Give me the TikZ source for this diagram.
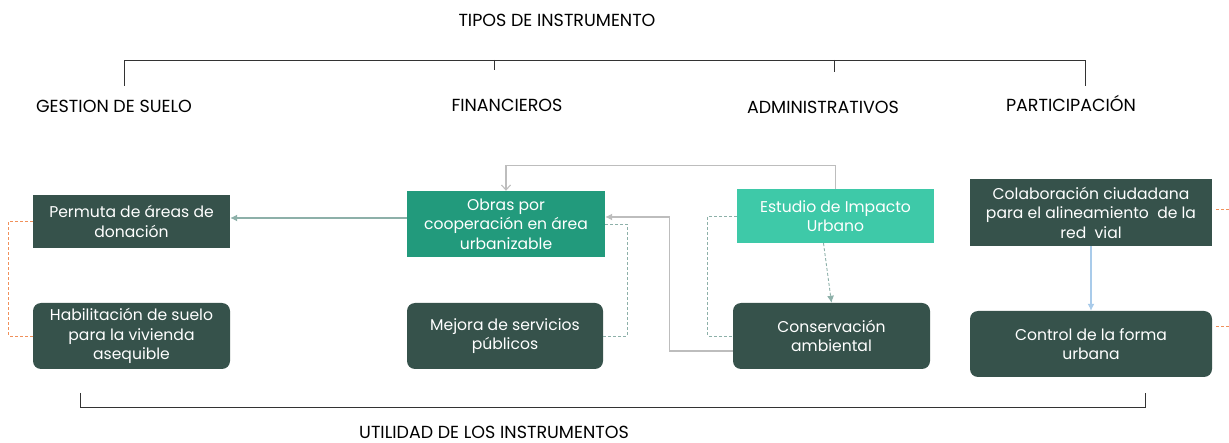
\documentclass[tikz,border=0pt]{standalone}
\usepackage{fontspec}
\setmainfont{Poppins}
\usetikzlibrary{arrows.meta, positioning}
\definecolor{boxdark}{HTML}{36524B}
\definecolor{boxmid}{HTML}{229A7C}
\definecolor{boxlight}{HTML}{3EC9A8}
\definecolor{linkgray}{HTML}{BDBDBD}
\definecolor{linkteal}{HTML}{8DB0A9}
\definecolor{linkorange}{HTML}{F0905A}
\definecolor{linkblue}{HTML}{A9CBEA}
\definecolor{bracketgray}{HTML}{333333}

\begin{document}
\begin{tikzpicture}[x=1pt, y=-1pt,
  box/.style={text=white, align=center, inner sep=0pt, minimum width=197pt,
    minimum height=66pt, font=\fontsize{15.6}{19.5}\selectfont},
  darkbox/.style={box, fill=boxdark},
  roundbox/.style={darkbox, rounded corners=8pt},
  heading/.style={font=\fontsize{17.5}{20}\selectfont, text=black, inner sep=1pt},
  bracket/.style={bracketgray, line width=0.9pt},
  graylink/.style={linkgray, line width=1.1pt},
  tealdash/.style={linkteal, line width=0.9pt, dash pattern=on 3pt off 2pt},
  orangedash/.style={linkorange, line width=0.9pt, dash pattern=on 3pt off 2pt}
]
\useasboundingbox (0,0) rectangle (1229,443);

% headings
\node[heading] (tipos) at (557,20) {TIPOS DE INSTRUMENTO};
\node[heading] (gestion) at (114,106) {GESTION DE SUELO};
\node[heading] (financ) at (507,105) {FINANCIEROS};
\node[heading] (admin) at (823,107) {ADMINISTRATIVOS};
\node[heading] (partic) at (1071,103) {PARTICIPACIÓN};
\node[heading] (utilidad) at (494,432) {UTILIDAD DE LOS INSTRUMENTOS};

% brackets
\draw[bracket] (124,86) -- (124,60) -- (1085,60) -- (1085,86);
\draw[bracket] (494,60) -- (494,70);
\draw[bracket] (834,60) -- (834,72);
\draw[bracket] (80,393) -- (80,407) -- (1145,407) -- (1145,393);

% instrument boxes
\node[darkbox, minimum height=53pt] (permuta) at (131.5,221.5) {Permuta de áreas de\\donación};
\node[roundbox] (habilit) at (131.5,336) {Habilitación de suelo\\para la vivienda\\asequible};
\node[box, fill=boxmid, minimum width=198pt] (obras) at (506,224) {Obras por\\cooperación en área\\urbanizable};
\node[roundbox, minimum width=196pt] (mejora) at (505,336) {Mejora de servicios\\públicos};
\node[box, fill=boxlight, minimum height=54pt] (estudio) at (835.5,216) {Estudio de Impacto\\Urbano};
\node[roundbox] (conserv) at (831.5,336) {Conservación\\ambiental};
\node[darkbox, minimum width=242pt, minimum height=67pt] (colab) at (1091,212.5) {Colaboración ciudadana\\para el alineamiento~ de la\\red~ vial};
\node[roundbox, minimum width=242pt] (control) at (1091,344) {Control de la forma\\urbana};

% links
\draw[linkteal, line width=1.1pt, -{Latex[length=7pt,width=7pt]}] ([yshift=6pt]obras.west) -- ([yshift=6pt]obras.west -| permuta.east);
\draw[graylink, -{Straight Barb[length=5pt,width=9pt]}] (estudio.north) -- ++(0,-23) -| (obras.north);
\draw[graylink, -{Latex[length=7pt,width=7pt]}] ([yshift=-15pt]conserv.west) -- ++(-63,0) |- ([yshift=7pt]obras.east);
\draw[tealdash] (mejora.east) -- ++(24,0) |- (obras.east);
\draw[tealdash] (estudio.west) -- ++(-29,0) |- (conserv.west);
\draw[tealdash, -{Latex[length=7pt,width=7pt]}] ([xshift=-12pt]estudio.south) -- (conserv.north);
\draw[orangedash] (permuta.west) -- ++(-24,0) |- (habilit.west);
\draw[linkblue, line width=1.1pt, -{Latex[length=7pt,width=7pt]}] (colab.south) -- (control.north);

% stubs leaving the page
\coordinate (colabout) at (1229,209);
\coordinate (controlout) at (1229,326);
\draw[orangedash] ([xshift=4pt]colab.east |- colabout) -- (colabout);
\draw[orangedash] ([xshift=4pt]control.east |- controlout) -- (controlout);
\end{tikzpicture}
\end{document}
